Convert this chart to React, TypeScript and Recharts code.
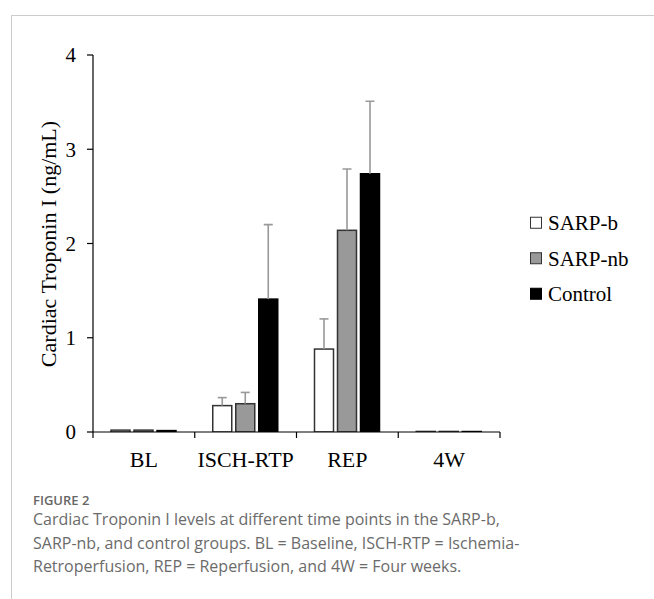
import React from 'react';
import { BarChart, Bar, XAxis, YAxis, Legend } from 'recharts';

const categories = ['BL', 'ISCH-RTP', 'REP', '4W'];
const sarpB = [0.02, 0.28, 0.88, 0.006];
const sarpNb = [0.02, 0.3, 2.14, 0.006];
const control = [0.015, 1.41, 2.74, 0.005];
const sarpBErr = [0, 0.085, 0.32, 0];
const sarpNbErr = [0, 0.12, 0.65, 0];
const controlErr = [0, 0.79, 0.77, 0];
const yTicks = [0, 1, 2, 3, 4];

const seriesInfo = [
  { key: 'sarpB', err: 'sarpBErr', name: 'SARP-b', fill: '#ffffff', stroke: '#333333' },
  { key: 'sarpNb', err: 'sarpNbErr', name: 'SARP-nb', fill: '#999999', stroke: '#333333' },
  { key: 'control', err: 'controlErr', name: 'Control', fill: '#000000', stroke: '#000000' },
];

const data = categories.map((c, i) => ({
  cat: c,
  sarpB: sarpB[i],
  sarpNb: sarpNb[i],
  control: control[i],
  sarpBErr: sarpBErr[i],
  sarpNbErr: sarpNbErr[i],
  controlErr: controlErr[i],
}));

const FONT = "'Liberation Serif', 'Times New Roman', serif";
const TICK_SIZE = 6;
const X_TICK_MARGIN = 13;
const ROW_H = 35.5;

const makeShape = (errKey: string, stroke: string) => (props: any) => {
  const { x, y, width, height, fill, payload, value } = props;
  const v = Array.isArray(value) ? value[1] - value[0] : value;
  const err = payload ? payload[errKey] : 0;
  const ppu = v ? height / v : 0;
  const cx = x + width / 2;
  const topY = y - err * ppu;
  return (
    <g>
      <rect x={x} y={y} width={width} height={Math.max(height, 0)} fill={fill} stroke={stroke} strokeWidth={1.5} />
      {err > 0 && (
        <g stroke="#999999" strokeWidth={1.6}>
          <line x1={cx} x2={cx} y1={y} y2={topY} />
          <line x1={cx - 4.5} x2={cx + 4.5} y1={topY} y2={topY} />
        </g>
      )}
    </g>
  );
};

const XTick = (props: any) => {
  const { x, y, payload, index, visibleTicksCount, width } = props;
  let half = payload && payload.offset ? payload.offset : 0;
  if (!half && width && visibleTicksCount) half = width / visibleTicksCount / 2;
  const axisY = y - TICK_SIZE - X_TICK_MARGIN;
  const isLast = index === (visibleTicksCount || 4) - 1;
  return (
    <g>
      <line x1={x - half} x2={x - half} y1={axisY} y2={axisY + TICK_SIZE} stroke="#000" strokeWidth={1.2} />
      {isLast && (
        <line x1={x + half} x2={x + half} y1={axisY} y2={axisY + TICK_SIZE} stroke="#000" strokeWidth={1.2} />
      )}
      <text x={x} y={y} dy="0.71em" textAnchor="middle" fontFamily={FONT} fontSize={22} fill="#000">
        {payload.value}
      </text>
    </g>
  );
};

const LegendContent = () => (
  <svg width={120} height={ROW_H * seriesInfo.length} style={{ display: 'block' }}>
    {seriesInfo.map((s, i) => {
      const cy = ROW_H * i + ROW_H / 2;
      return (
        <g key={s.key}>
          <rect x={1.5} y={cy - 5.5} width={11} height={11} fill={s.fill} stroke={s.stroke} strokeWidth={1} />
          <text x={19} y={cy} dy="0.35em" fontFamily={FONT} fontSize={21} fill="#000">
            {s.name}
          </text>
        </g>
      );
    })}
  </svg>
);

const YLabel = () => (
  <text
    x={48}
    y={244}
    transform="rotate(-90 48 244)"
    textAnchor="middle"
    dominantBaseline="central"
    fontFamily={FONT}
    fontSize={22}
    fill="#000"
  >
    Cardiac Troponin I (ng/mL)
  </text>
);

export default function App() {
  return (
    <div style={{ position: 'absolute', left: 0, top: 0, width: 654, height: 599, background: '#fff', overflow: 'hidden' }}>
      <div style={{ position: 'absolute', left: 11, top: 15, width: 643, height: 1, background: '#cccccc' }} />
      <div style={{ position: 'absolute', left: 11, top: 15, width: 1, height: 584, background: '#cccccc' }} />
      <div style={{ position: 'absolute', left: 0, top: 0 }}>
        <BarChart
          width={654}
          height={480}
          data={data}
          margin={{ top: 55, right: 154, left: 53, bottom: 18 }}
          barSize={19}
          barGap={4}
        >
          <XAxis
            dataKey="cat"
            height={30}
            axisLine={{ stroke: '#000', strokeWidth: 1.2 }}
            tickLine={false}
            tickSize={TICK_SIZE}
            tickMargin={X_TICK_MARGIN}
            tick={<XTick />}
            interval={0}
          />
          <YAxis
            width={40}
            domain={[0, 4]}
            ticks={yTicks}
            allowDataOverflow
            axisLine={{ stroke: '#000', strokeWidth: 1.2 }}
            tickLine={{ stroke: '#000', strokeWidth: 1.2 }}
            tickSize={TICK_SIZE}
            tickMargin={11}
            tick={{ fontFamily: FONT, fontSize: 21, fill: '#000' }}
          />
          {seriesInfo.map((s) => (
            <Bar
              key={s.key}
              dataKey={s.key}
              name={s.name}
              fill={s.fill}
              stroke={s.stroke}
              isAnimationActive={false}
              shape={makeShape(s.err, s.stroke)}
            />
          ))}
          <Legend
            layout="vertical"
            align="center"
            verticalAlign="middle"
            content={<LegendContent />}
            wrapperStyle={{ left: 529, top: 205, width: 120 }}
          />
          <YLabel />
        </BarChart>
      </div>
      <div
        style={{
          position: 'absolute',
          left: 33,
          top: 491,
          fontFamily: "'Open Sans', sans-serif",
          fontSize: 13,
          fontWeight: 600,
          color: '#666',
          lineHeight: '18px',
        }}
      >
        FIGURE 2
      </div>
      <div
        style={{
          position: 'absolute',
          left: 33,
          top: 508,
          fontFamily: "'Open Sans', sans-serif",
          fontSize: 16,
          fontWeight: 400,
          color: '#6b6b6b',
          lineHeight: '23.5px',
          whiteSpace: 'nowrap',
        }}
      >
        <div>Cardiac Troponin I levels at different time points in the SARP-b,</div>
        <div>SARP-nb, and control groups. BL = Baseline, ISCH-RTP = Ischemia-</div>
        <div>Retroperfusion, REP = Reperfusion, and 4W = Four weeks.</div>
      </div>
    </div>
  );
}
